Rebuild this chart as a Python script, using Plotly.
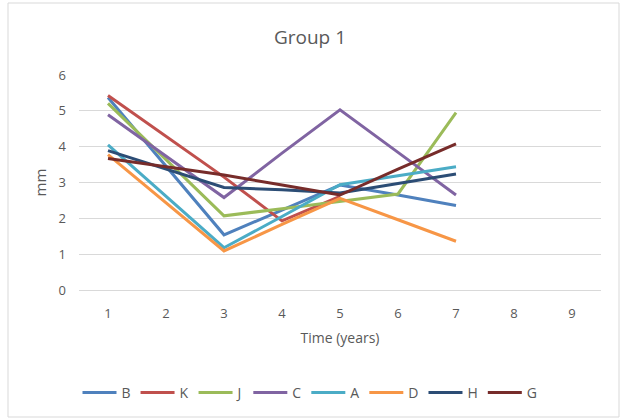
import plotly.graph_objects as go

x_years = [1, 2, 3, 4, 5, 6, 7]
x_ticks = [1, 2, 3, 4, 5, 6, 7, 8, 9]

B = [5.37, 3.45, 1.54, 2.23, 2.93, 2.65, 2.36]
K = [5.43, 4.29, 3.15, 1.93, 2.61, None, None]
J = [5.21, 3.64, 2.07, 2.27, 2.47, 2.68, 4.95]
C = [4.89, 3.74, 2.58, 3.82, 5.03, 3.84, 2.65]
A = [4.05, 2.62, 1.18, 2.05, 2.94, 3.19, 3.44]
D = [3.78, 2.43, 1.09, 1.83, 2.56, 1.96, 1.36]
H = [3.89, 3.37, 2.86, 2.80, 2.71, 2.97, 3.24]
G = [3.67, 3.44, 3.21, 2.93, 2.65, 3.37, 4.08]

series = [("B", B, "#4F81BD"), ("K", K, "#C0504D"), ("J", J, "#9BBB59"),
          ("C", C, "#8064A2"), ("A", A, "#4BACC6"), ("D", D, "#F79646"),
          ("H", H, "#2C4D75"), ("G", G, "#772C2A")]

font_family = "Open Sans, Liberation Sans, sans-serif"
grey = "#595959"

fig = go.Figure()
for name, vals, col in series:
    fig.add_trace(go.Scatter(x=x_years, y=vals, name=name, mode="lines",
                             line=dict(color=col, width=3)))

fig.update_layout(
    width=620, height=418,
    margin=dict(l=79, r=19, t=75, b=128, autoexpand=False),
    paper_bgcolor="white", plot_bgcolor="white",
    font=dict(family=font_family, color=grey, size=13),
    title=dict(text="Group 1", x=0.5, xref="container", xanchor="center",
               y=1 - 37 / 418, yref="container", yanchor="middle",
               font=dict(size=19, color=grey, family=font_family)),
    xaxis=dict(range=[0.5, 9.5], tickvals=x_ticks, ticktext=[str(v) for v in x_ticks],
               showgrid=False, zeroline=False, showline=True, linecolor="#D9D9D9",
               linewidth=1, ticks="", ticklabelstandoff=11, automargin=False,
               title=dict(text="Time (years)", standoff=12, font=dict(size=14, color=grey))),
    yaxis=dict(range=[0, 6], dtick=1, showgrid=True, gridcolor="#D9D9D9", gridwidth=1,
               zeroline=False, showline=False, ticks="", ticklabelstandoff=12,
               automargin=False,
               title=dict(text="mm", standoff=8, font=dict(size=15, color=grey))),
    legend=dict(orientation="h", x=0.5, xanchor="center", xref="container",
                y=1 - 393 / 418, yref="container", yanchor="middle",
                font=dict(size=14, color=grey), itemwidth=34, tracegroupgap=0),
    showlegend=True,
)

fig.add_shape(type="rect", xref="paper", yref="paper",
              x0=(8 - 79) / 522, x1=(619 - 79) / 522,
              y0=(290 - 417) / 215, y1=(290 - 3) / 215,
              line=dict(color="#D9D9D9", width=1), layer="below")

fig.write_html("out.html",
               config={"displayModeBar": False},
               post_script="document.body.style.margin='0px';document.body.style.overflow='hidden';")
